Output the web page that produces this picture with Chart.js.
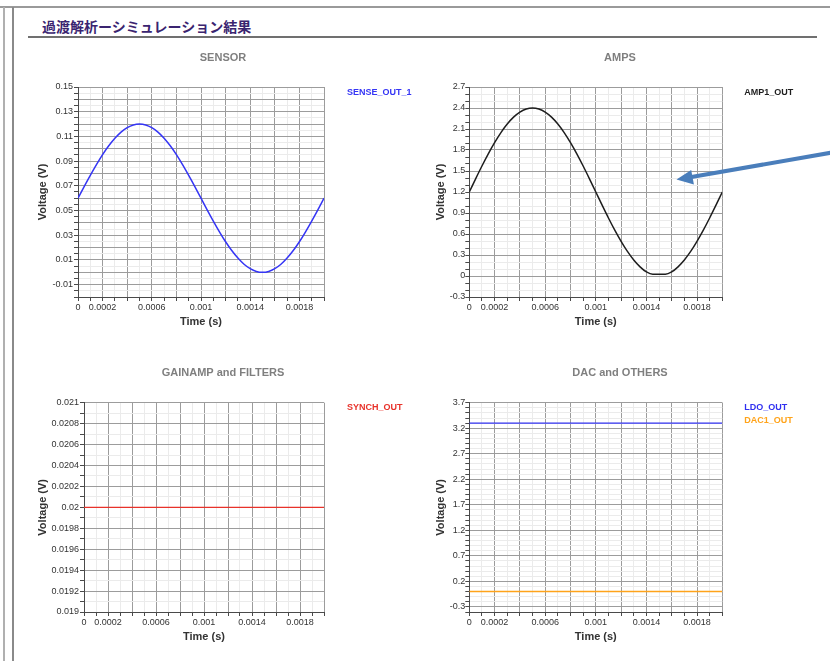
<!DOCTYPE html>
<html><head><meta charset="utf-8">
<script src="https://cdn.jsdelivr.net/npm/chart.js@4.4.1/dist/chart.umd.min.js"></script>
<style>
html,body{margin:0;padding:0;background:#fff;width:830px;height:661px;overflow:hidden;position:relative;font-family:"Liberation Sans",Arial,sans-serif}
.box{position:absolute}
.box canvas{display:block}
#pageTitle{position:absolute;left:42px;top:16px;font-family:"Noto Sans CJK JP";font-weight:bold;font-size:14px;line-height:20px;color:#3a2470;white-space:nowrap}
</style></head><body>
<div style="position:absolute;left:0;top:6px;width:830px;height:2px;background:#9a9a9a"></div>
<div style="position:absolute;left:3px;top:7px;width:2px;height:654px;background:#b0b0b0"></div>
<div style="position:absolute;left:12px;top:7px;width:2px;height:654px;background:#8a8a8a"></div>
<div id="pageTitle">過渡解析ーシミュレーション結果</div>
<div style="position:absolute;left:28px;top:36px;width:789px;height:2px;background:#707070"></div>

<div class="box" style="left:30px;top:45px;width:386px;height:300px"><canvas id="c1"></canvas></div>
<div class="box" style="left:420px;top:45px;width:400px;height:300px"><canvas id="c2"></canvas></div>
<div class="box" style="left:30px;top:360px;width:386px;height:300px"><canvas id="c3"></canvas></div>
<div class="box" style="left:420px;top:360px;width:400px;height:300px"><canvas id="c4"></canvas></div>

<svg style="position:absolute;left:0;top:0" width="830" height="661">
  <line x1="832" y1="152.5" x2="690" y2="177.3" stroke="#4a7ebb" stroke-width="4"/>
  <polygon points="676.5,179.5 693.9,184.5 691.2,170" fill="#4a7ebb"/>
</svg>

<script>
// ---- data ----
const timeS = [0,0.00005,0.0001,0.00015,0.0002,0.00025,0.0003,0.00035,0.0004,0.00045,
  0.0005,0.00055,0.0006,0.00065,0.0007,0.00075,0.0008,0.00085,0.0009,0.00095,
  0.001,0.00105,0.0011,0.00115,0.0012,0.00125,0.0013,0.00135,0.0014,0.00145,
  0.0015,0.00155,0.0016,0.00165,0.0017,0.00175,0.0018,0.00185,0.0019,0.00195,0.002];
const senseOut1 = [0.0600,0.0694,0.0785,0.0872,0.0953,0.1024,0.1085,0.1135,0.1171,0.1193,
  0.1200,0.1193,0.1171,0.1135,0.1085,0.1024,0.0953,0.0872,0.0785,0.0694,
  0.0600,0.0506,0.0415,0.0328,0.0247,0.0176,0.0115,0.0065,0.0029,0.0007,
  0.0000,0.0007,0.0029,0.0065,0.0115,0.0176,0.0247,0.0328,0.0415,0.0506,0.0600];
const amp1Out = [1.200,1.388,1.571,1.745,1.905,2.049,2.171,2.269,2.341,2.385,
  2.400,2.385,2.341,2.269,2.171,2.049,1.905,1.745,1.571,1.388,
  1.200,1.012,0.829,0.655,0.495,0.351,0.229,0.131,0.059,0.025,
  0.025,0.025,0.059,0.131,0.229,0.351,0.495,0.655,0.829,1.012,1.200];
const flatTime = [0,0.0005,0.001,0.0015,0.002];
const synchOut = [0.02,0.02,0.02,0.02,0.02];
const ldoOut = [3.3,3.3,3.3,3.3,3.3];
const dac1Out = [0,0,0,0,0];

// ---- tick labels ----
const timeTickLabels = ['0','0.0002','0.0006','0.001','0.0014','0.0018'];
const sensorYLabels = ['0.15','0.13','0.11','0.09','0.07','0.05','0.03','0.01','-0.01'];
const ampYLabels = ['2.7','2.4','2.1','1.8','1.5','1.2','0.9','0.6','0.3','0','-0.3'];
const synchYLabels = ['0.021','0.0208','0.0206','0.0204','0.0202','0.02','0.0198','0.0196','0.0194','0.0192','0.019'];
const dacYLabels = ['3.7','3.2','2.7','2.2','1.7','1.2','0.7','0.2','-0.3'];

// ---- helpers ----
const FONT = '"Liberation Sans", Arial, sans-serif';
const MAJOR = '#9c9c9c', MINOR = '#ebebeb', AXIS = '#4a4a4a';
function gridValues(min, max, step){
  const out = []; const n = Math.round((max-min)/step);
  for(let i=0;i<=n;i++){ out.push(Math.round((min+i*step)*1e10)/1e10); }
  return out;
}
function isMajor(v, base, step){
  const r = (v-base)/step; return Math.abs(r-Math.round(r)) < 1e-6;
}
function labelFor(v, labels){
  for(const l of labels){ if(Math.abs(parseFloat(l)-v) < 1e-9) return l; }
  return '';
}
const sideLegend = {
  id:'sideLegend',
  afterDraw(chart, args, opts){
    const {ctx, chartArea} = chart;
    ctx.save();
    ctx.font = 'bold 9px ' + FONT;
    ctx.textBaseline = 'middle'; ctx.textAlign = 'left';
    chart.data.datasets.forEach((ds,i)=>{
      ctx.fillStyle = ds.legendColor || ds.borderColor;
      ctx.fillText(ds.label, chartArea.right + opts.dx, chartArea.top + opts.dy + i*opts.gap);
    });
    ctx.restore();
  }
};

function makeChart(id, c){
  const xTicks = gridValues(0, 0.002, 0.0001);
  const yTicks = gridValues(c.yMin, c.yMax, c.yMinor);
  return new Chart(document.getElementById(id), {
    type:'line',
    data:{ datasets: c.datasets.map(d=>({
      label:d.label, data:d.x.map((t,i)=>({x:t,y:d.y[i]})),
      borderColor:d.color, legendColor:d.legendColor, borderWidth:d.width||1.5,
      pointRadius:0, cubicInterpolationMode:'monotone', fill:false, yAxisID:'y' })) },
    plugins:[sideLegend],
    options:{
      responsive:true, maintainAspectRatio:false, animation:false,
      layout:{ padding:0 },
      plugins:{
        legend:{display:false}, tooltip:{enabled:false},
        title:{ display:true, text:c.title, color:'#7f7f7f',
          font:{family:FONT, size:11, weight:'bold'}, padding:{top:6, bottom:c.titlePadBottom} },
        sideLegend:{ dx:c.legDx, dy:c.legDy, gap:13.7 }
      },
      scales:{
        x:{ type:'linear', min:0, max:0.002,
          afterBuildTicks:(s)=>{ s.ticks = xTicks.map(v=>({value:v})); },
          afterFit:(s)=>{ s.height = 48; },
          ticks:{ autoSkip:false, maxRotation:0, minRotation:0, padding:1, color:'#333',
            font:{family:FONT, size:9}, callback:(v)=>labelFor(v, timeTickLabels) },
          grid:{ drawTicks:true, tickLength:4, lineWidth:1,
            color:(ctx)=> (ctx.tick && isMajor(ctx.tick.value, 0, 0.0002)) ? MAJOR : MINOR,
            tickColor:AXIS },
          border:{ display:true, color:AXIS, width:1 },
          title:{ display:true, text:'Time (s)', color:'#333', font:{family:FONT, size:11, weight:'bold'},
            padding:{top:0, bottom:c.xTitlePad} }
        },
        y:{ type:'linear', position:'left', min:c.yMin, max:c.yMax,
          afterBuildTicks:(s)=>{ s.ticks = yTicks.map(v=>({value:v})); },
          afterFit:(s)=>{ s.width = c.yWidth; },
          ticks:{ autoSkip:false, padding:c.yTickPad, color:'#333',
            font:{family:FONT, size:9}, callback:(v)=>labelFor(v, c.yLabels) },
          grid:{ drawTicks:true, tickLength:4, lineWidth:1,
            color:(ctx)=> (ctx.tick && isMajor(ctx.tick.value, c.yMax, c.yMajor)) ? MAJOR : MINOR,
            tickColor:AXIS },
          border:{ display:true, color:AXIS, width:1 },
          title:{ display:true, text:'Voltage (V)', color:'#333', font:{family:FONT, size:11, weight:'bold'},
            padding:{top:c.yTitlePad, bottom:0} }
        },
        // empty right-hand box that reserves the legend column
        side:{ type:'linear', axis:'y', position:'right', display:true, min:0, max:1,
          afterFit:(s)=>{ s.width = c.padRight; },
          ticks:{ display:false }, grid:{ display:false, drawTicks:false }, border:{ display:false },
          title:{ display:false } }
      }
    }
  });
}

makeChart('c1', { title:'SENSOR', padRight:92, titlePadBottom:22.8, yWidth:48, yTickPad:1, yTitlePad:6.4,
  xTitlePad:16.7, yMin:-0.02, yMax:0.15, yMajor:0.01, yMinor:0.005, yLabels:sensorYLabels, legDx:23, legDy:6,
  datasets:[{label:'SENSE_OUT_1', x:timeS, y:senseOut1, color:'#3535f5'}] });
makeChart('c2', { title:'AMPS', padRight:97.7, titlePadBottom:22.8, yWidth:49.3, yTickPad:0, yTitlePad:14.1,
  xTitlePad:16.1, yMin:-0.3, yMax:2.7, yMajor:0.3, yMinor:0.1, yLabels:ampYLabels, legDx:22, legDy:5.6,
  datasets:[{label:'AMP1_OUT', x:timeS, y:amp1Out, color:'#1e1e1e'}] });
makeChart('c3', { title:'GAINAMP and FILTERS', padRight:92, titlePadBottom:23.5, yWidth:54, yTickPad:1, yTitlePad:6.4,
  xTitlePad:16.4, yMin:0.019, yMax:0.021, yMajor:0.0002, yMinor:0.0001, yLabels:synchYLabels, legDx:23, legDy:5,
  datasets:[{label:'SYNCH_OUT', x:flatTime, y:synchOut, color:'#e8322a', width:1.2}] });
makeChart('c4', { title:'DAC and OTHERS', padRight:97.7, titlePadBottom:23.5, yWidth:49.3, yTickPad:0, yTitlePad:14.1,
  xTitlePad:16.1, yMin:-0.4, yMax:3.7, yMajor:0.5, yMinor:0.1, yLabels:dacYLabels, legDx:22, legDy:4.6,
  datasets:[{label:'LDO_OUT', x:flatTime, y:ldoOut, color:'#3030f0', width:1.2},
            {label:'DAC1_OUT', x:flatTime, y:dac1Out, color:'#ffa31a', width:1.5}] });
</script>
</body></html>
